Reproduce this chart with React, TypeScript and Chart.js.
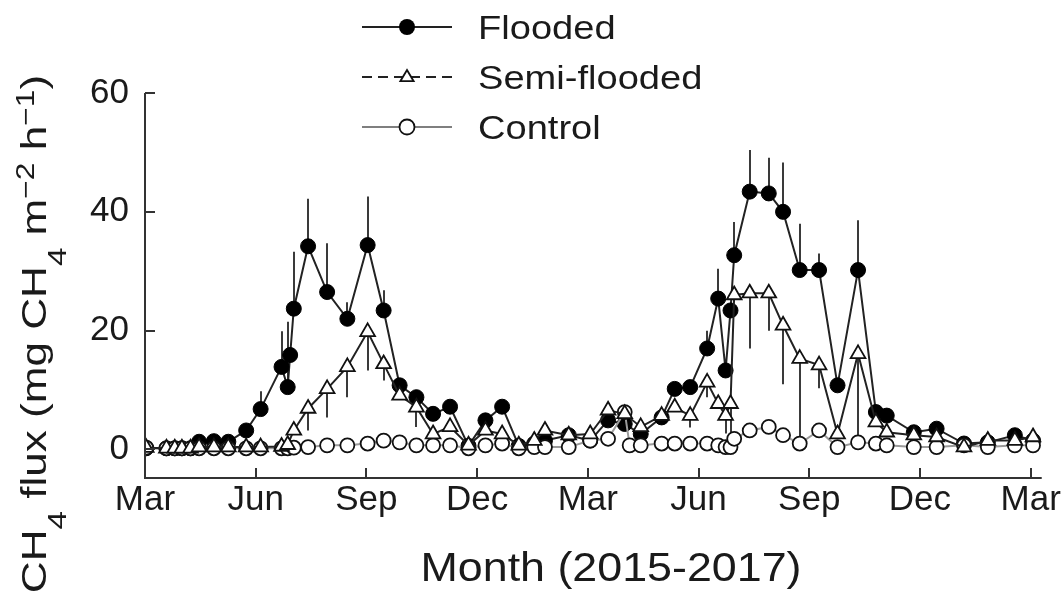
import React, { useEffect, useRef } from "react";
import { Chart, registerables } from "chart.js";

Chart.register(...registerables);

// ---- data ----
const sampleDates = [
  "2015-03-02", "2015-03-19", "2015-03-26", "2015-04-01", "2015-04-08", "2015-04-15",
  "2015-04-27", "2015-05-09", "2015-05-24", "2015-06-05", "2015-06-22", "2015-06-27",
  "2015-06-29", "2015-07-02", "2015-07-14", "2015-07-30", "2015-08-16", "2015-09-02",
  "2015-09-15", "2015-09-28", "2015-10-12", "2015-10-26", "2015-11-09", "2015-11-24",
  "2015-12-08", "2015-12-22", "2016-01-05", "2016-01-18", "2016-01-27", "2016-02-15",
  "2016-03-03", "2016-03-18", "2016-04-01", "2016-04-05", "2016-04-14", "2016-05-01",
  "2016-05-12", "2016-05-25", "2016-06-08", "2016-06-17", "2016-06-23", "2016-06-27",
  "2016-06-30", "2016-07-13", "2016-07-29", "2016-08-10", "2016-08-24", "2016-09-09",
  "2016-09-24", "2016-10-11", "2016-10-26", "2016-11-04", "2016-11-26", "2016-12-15",
  "2017-01-07", "2017-01-27", "2017-02-17", "2017-03-03",
];

const flooded = [
  0.2, 0.2, 0.2, 0.2, 0.2, 1.3,
  1.4, 1.3, 3.2, 6.8, 13.9, 10.5,
  15.9, 23.7, 34.2, 26.5, 22.0, 34.4,
  23.4, 10.8, 8.8, 6.0, 7.2, 0.6,
  4.9, 7.2, 0.6, 1.0, 1.5, 2.4,
  1.5, 4.9, 4.3, null, 2.6, 5.4,
  10.2, 10.5, 17.0, 25.4, 13.3, 23.4,
  32.7, 43.4, 43.1, 40.0, 30.2, 30.2,
  10.8, 30.2, 6.3, 5.7, 2.9, 3.5,
  1.0, 1.2, 2.4, 1.5,
];

const floodedSD = [
  0, 0, 0, 0, 0, 0,
  0, 0, 0, 3.0, 6.0, 11.0,
  0, 9.6, 8.0, 8.2, 2.8, 8.2,
  3.4, 0, 0, 0, 0, 0,
  0, 0, 0, 0, 0, 0,
  0, 0, 0, 0, 0, 0,
  0, 0, 3.0, 5.0, 0, 0,
  5.6, 7.0, 6.0, 8.3, 7.8, 2.8,
  0, 8.4, 0, 0, 0, 0,
  0, 0, 0, 0,
];

const semiFlooded = [
  0.3, 0.2, 0.2, 0.2, 0.2, 0.4,
  0.4, 0.4, 0.4, 0.4, 0.5, 0.8,
  null, 3.2, 6.9, 10.2, 13.9, 19.8,
  14.4, 9.1, 7.1, 2.6, 3.8, 0.7,
  3.2, 2.6, 0.7, 1.5, 3.2, 2.4,
  2.6, 6.6, 6.0, null, 3.8, 5.7,
  7.1, 5.7, 11.3, 7.7, 5.7, 7.7,
  26.0, 26.3, 26.3, 20.9, 15.3, 14.2,
  2.6, 16.1, 4.6, 2.9, 2.4, 2.1,
  0.4, 1.5, 1.5, 2.1,
];

const semiFloodedSD = [
  0, 0, 0, 0, 0, 0,
  0, 0, 0, 0, 0, 0,
  0, 0, 3.7, 4.8, 5.1, 6.5,
  2.8, 0, 3.3, 0, 0, 0,
  0, 0, 0, 0, 0, 0,
  0, 0, 0, 0, 0, 0,
  0, 2.0, 2.5, 0, 3.0, 6.0,
  0, 9.3, 6.3, 9.9, 14.0, 3.9,
  0, 14.6, 0, 0, 0, 0,
  0, 0, 0, 0,
];

const control = [
  0.3, 0.2, 0.2, 0.2, 0.2, 0.2,
  0.2, 0.2, 0.2, 0.2, 0.2, 0.2,
  null, 0.3, 0.4, 0.7, 0.7, 1.0,
  1.5, 1.2, 0.7, 0.7, 0.7, 0.2,
  0.7, 1.0, 0.2, 0.4, 0.4, 0.4,
  1.5, 1.8, 6.3, 0.7, 0.7, 1.0,
  1.0, 1.0, 1.0, 0.7, 0.4, 0.4,
  1.8, 3.2, 3.8, 2.4, 1.0, 3.2,
  0.4, 1.2, 1.0, 0.7, 0.4, 0.4,
  0.7, 0.4, 0.7, 0.7,
];

const xTickLabels = ["Mar", "Jun", "Sep", "Dec", "Mar", "Jun", "Sep", "Dec", "Mar"];
const yTickValues = [0, 20, 40, 60];
const legendLabels = ["Flooded", "Semi-flooded", "Control"];
const xTitle = "Month (2015-2017)";

const FONT = '"Liberation Sans", Arial, Helvetica, sans-serif';

function monthIndex(d: string): number {
  const [y, m, day] = d.split("-").map(Number);
  const days = new Date(y, m, 0).getDate();
  return (y - 2015) * 12 + (m - 3) + (day - 1) / days;
}

const xs = sampleDates.map(monthIndex);
const toPoints = (vals: (number | null)[]) => xs.map((x, i) => ({ x, y: vals[i] }));

function drawStretched(
  ctx: CanvasRenderingContext2D,
  text: string,
  x: number,
  y: number,
  size: number,
  sx: number
) {
  ctx.save();
  ctx.font = `${size}px ${FONT}`;
  ctx.translate(x, y);
  ctx.scale(sx, 1);
  ctx.textAlign = "left";
  ctx.textBaseline = "alphabetic";
  ctx.fillText(text, 0, 0);
  ctx.restore();
}

const errorBarPlugin = {
  id: "errorBars",
  beforeDatasetsDraw(chart: any) {
    const { ctx } = chart;
    const x = chart.scales.x;
    const y = chart.scales.y;
    ctx.save();
    ctx.strokeStyle = "#3a3a3a";
    ctx.lineWidth = 2;
    const draw = (vals: (number | null)[], sd: number[], dir: number) => {
      vals.forEach((v, i) => {
        const e = sd[i];
        if (v == null || !e) return;
        const px = Math.round(x.getPixelForValue(xs[i]));
        ctx.beginPath();
        ctx.moveTo(px, y.getPixelForValue(v));
        ctx.lineTo(px, y.getPixelForValue(v + dir * e));
        ctx.stroke();
      });
    };
    draw(flooded, floodedSD, 1);
    draw(semiFlooded, semiFloodedSD, -1);
    ctx.restore();
  },
};

const decorPlugin = {
  id: "decor",
  afterDraw(chart: any) {
    const { ctx, chartArea: a } = chart;
    const x = chart.scales.x;
    const y = chart.scales.y;
    ctx.save();
    // axes
    ctx.strokeStyle = "#333";
    ctx.lineWidth = 2;
    ctx.beginPath();
    ctx.moveTo(a.left, a.top);
    ctx.lineTo(a.left, a.bottom);
    ctx.lineTo(a.right, a.bottom);
    ctx.stroke();
    yTickValues.forEach((v) => {
      const py = Math.round(y.getPixelForValue(v));
      ctx.beginPath();
      ctx.moveTo(a.left, py);
      ctx.lineTo(a.left + 10, py);
      ctx.stroke();
    });
    x.ticks.forEach((t: any) => {
      if (t.value === 0) return;
      const px = Math.round(x.getPixelForValue(t.value));
      ctx.beginPath();
      ctx.moveTo(px, a.bottom);
      ctx.lineTo(px, a.bottom - 10);
      ctx.stroke();
    });

    // legend
    const rows = [27, 77, 127];
    const lx0 = 362, lx1 = 452, mx = 407, tx = 478;
    rows.forEach((ry, i) => {
      ctx.save();
      ctx.lineWidth = i === 2 ? 1.5 : 2;
      ctx.strokeStyle = i === 2 ? "#555" : "#222";
      if (i === 1) ctx.setLineDash([10, 6]);
      ctx.beginPath();
      ctx.moveTo(lx0, ry);
      ctx.lineTo(lx1, ry);
      ctx.stroke();
      ctx.setLineDash([]);
      ctx.lineWidth = 1.8;
      ctx.strokeStyle = "#111";
      if (i === 0) {
        ctx.fillStyle = "#000";
        ctx.beginPath();
        ctx.arc(mx, ry, 8, 0, Math.PI * 2);
        ctx.fill();
      } else if (i === 1) {
        ctx.fillStyle = "#fff";
        const r = 7;
        ctx.beginPath();
        ctx.moveTo(mx, ry - r);
        ctx.lineTo(mx + r * 0.95, ry + r * 0.6);
        ctx.lineTo(mx - r * 0.95, ry + r * 0.6);
        ctx.closePath();
        ctx.fill();
        ctx.stroke();
      } else {
        ctx.fillStyle = "#fff";
        ctx.beginPath();
        ctx.arc(mx, ry, 7.5, 0, Math.PI * 2);
        ctx.fill();
        ctx.stroke();
      }
      ctx.restore();
      ctx.fillStyle = "#1a1a1a";
      drawStretched(ctx, legendLabels[i], tx, ry + 12, 34, 1.12);
    });

    // x title
    ctx.fillStyle = "#1a1a1a";
    ctx.font = `40px ${FONT}`;
    const xsx = 1.12;
    const xw = ctx.measureText(xTitle).width * xsx;
    drawStretched(ctx, xTitle, 611 - xw / 2, 581, 40, xsx);

    // y title with sub/superscripts
    const base = 35;
    const ysx = 1.26;
    const runs: [string, number, number][] = [
      ["CH", 0, 1],
      ["4", 20, 0.75],
      [" flux (mg CH", 0, 1],
      ["4", 20, 0.75],
      [" m", 0, 1],
      ["\u22122", -12, 0.72],
      [" h", 0, 1],
      ["\u22121", -12, 0.72],
      [")", 0, 1],
    ];
    let total = 0;
    const widths = runs.map(([t, , s]) => {
      ctx.font = `${base * s}px ${FONT}`;
      const w = ctx.measureText(t).width * ysx;
      total += w;
      return w;
    });
    ctx.save();
    ctx.translate(46, 334);
    ctx.rotate(-Math.PI / 2);
    let cx = -total / 2;
    runs.forEach(([t, dy, s], i) => {
      drawStretched(ctx, t, cx, dy, base * s, ysx);
      cx += widths[i];
    });
    ctx.restore();
    ctx.restore();
  },
};

export default function App() {
  const ref = useRef<HTMLCanvasElement>(null);
  useEffect(() => {
    if (!ref.current) return;
    const chart = new Chart(ref.current, {
      type: "line",
      data: {
        datasets: [
          {
            label: legendLabels[1],
            data: toPoints(semiFlooded),
            borderColor: "#222",
            borderWidth: 2,
            pointStyle: "triangle",
            pointRadius: 8.5,
            pointBackgroundColor: "#fff",
            pointBorderColor: "#111",
            pointBorderWidth: 1.8,
            spanGaps: true,
            order: 0,
          },
          {
            label: legendLabels[2],
            data: toPoints(control),
            borderColor: "#9a9a9a",
            borderWidth: 2,
            pointStyle: "circle",
            pointRadius: 7,
            pointBackgroundColor: "#fff",
            pointBorderColor: "#111",
            pointBorderWidth: 1.8,
            spanGaps: true,
            order: 1,
          },
          {
            label: legendLabels[0],
            data: toPoints(flooded),
            borderColor: "#222",
            borderWidth: 2,
            pointStyle: "circle",
            pointRadius: 7.5,
            pointBackgroundColor: "#000",
            pointBorderColor: "#000",
            pointBorderWidth: 1,
            spanGaps: true,
            order: 2,
          },
        ],
      },
      options: {
        animation: false,
        responsive: false,
        events: [],
        layout: { autoPadding: false, padding: { top: 93, right: 17, left: 0, bottom: 0 } },
        plugins: { legend: { display: false }, tooltip: { enabled: false } },
        scales: {
          x: {
            type: "linear",
            min: 0,
            max: 24.3,
            afterBuildTicks: (s: any) => {
              s.ticks = xTickLabels.map((_, i) => ({ value: i * 3 }));
            },
            afterFit: (s: any) => {
              s.height = 121;
            },
            grid: { display: false, drawTicks: false },
            border: { display: false },
            ticks: {
              autoSkip: false,
              maxRotation: 0,
              padding: 1,
              color: "#1a1a1a",
              font: { family: FONT, size: 35 },
              callback: (v: any) => xTickLabels[Math.round(Number(v) / 3)] ?? "",
            },
          },
          y: {
            type: "linear",
            min: -4.8,
            max: 60,
            afterBuildTicks: (s: any) => {
              s.ticks = yTickValues.map((v) => ({ value: v }));
            },
            afterFit: (s: any) => {
              s.width = 145;
            },
            grid: { display: false, drawTicks: false },
            border: { display: false },
            ticks: {
              padding: 16,
              color: "#1a1a1a",
              font: { family: FONT, size: 35 },
            },
          },
        },
      },
      plugins: [errorBarPlugin, decorPlugin],
    });
    return () => chart.destroy();
  }, []);
  return (
    <div style={{ position: "fixed", left: 0, top: 0, width: 1062, height: 599, background: "#fff" }}>
      <canvas ref={ref} width={1062} height={599} style={{ display: "block" }} />
    </div>
  );
}
